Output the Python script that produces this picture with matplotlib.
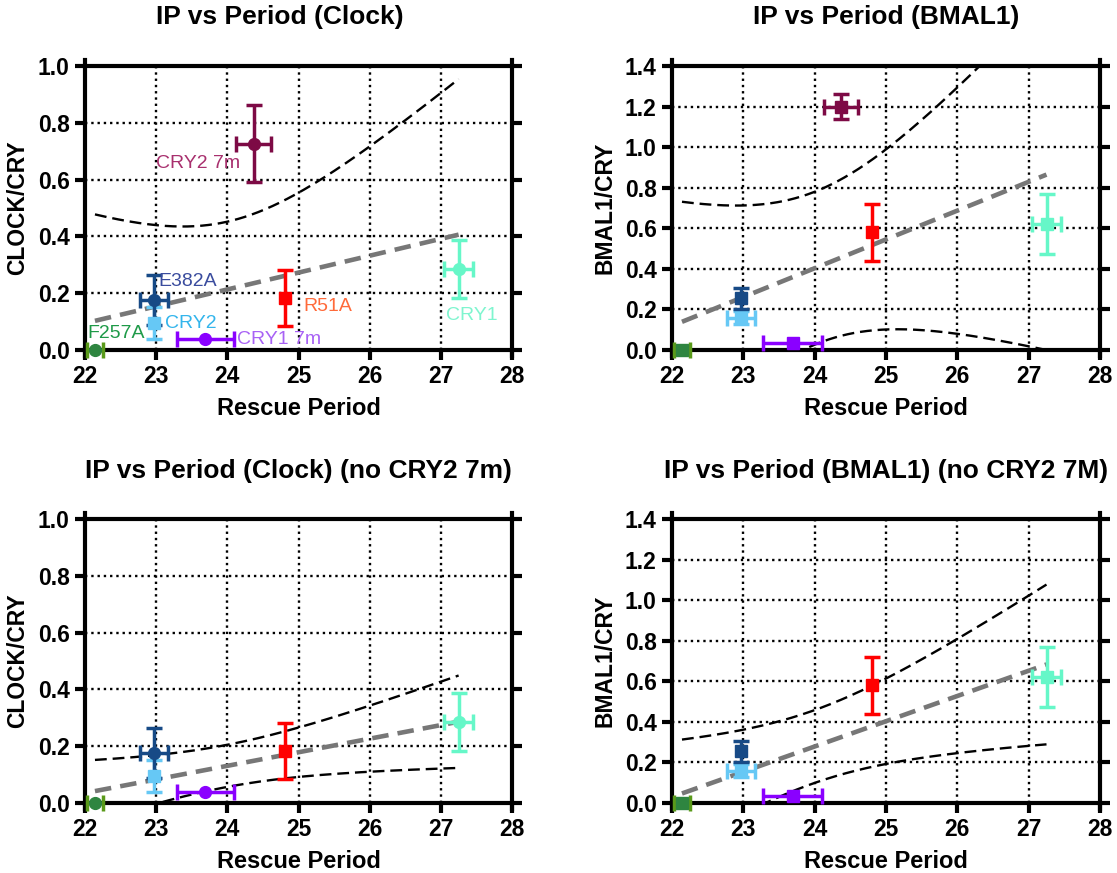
import numpy as np
import matplotlib
matplotlib.use("Agg")
import matplotlib.pyplot as plt

plt.rcParams['font.family'] = ['Liberation Sans', 'DejaVu Sans']

# ---------------- data ----------------
samples = ["F257A", "CRY2", "E382A", "CRY1 7m", "CRY2 7m", "R51A", "CRY1"]
period = [22.14, 22.97, 22.97, 23.69, 24.37, 24.81, 27.25]

clock_ratio = [0.0, 0.094, 0.176, 0.038, 0.727, 0.184, 0.285]
clock_ratio_err = [0.0, 0.057, 0.087, 0.0, 0.135, 0.098, 0.103]
clock_period_err = [0.11, 0.0, 0.20, 0.40, 0.25, 0.0, 0.205]

bmal_ratio = [0.0, 0.16, 0.254, 0.033, 1.20, 0.581, 0.622]
bmal_ratio_err = [0.0, 0.03, 0.05, 0.0, 0.06, 0.14, 0.149]
bmal_period_err = [0.11, 0.20, 0.0, 0.41, 0.24, 0.0, 0.20]

titles = ["IP vs Period (Clock)", "IP vs Period (BMAL1)",
          "IP vs Period (Clock) (no CRY2 7m)", "IP vs Period (BMAL1) (no CRY2 7M)"]
ylabels = ["CLOCK/CRY", "BMAL1/CRY", "CLOCK/CRY", "BMAL1/CRY"]
xlabel = "Rescue Period"
x_ticks = [22, 23, 24, 25, 26, 27, 28]
clock_yticks = [0.0, 0.2, 0.4, 0.6, 0.8, 1.0]
bmal_yticks = [0.0, 0.2, 0.4, 0.6, 0.8, 1.0, 1.2, 1.4]

# ---------------- styles ----------------
marker_colors = ["#2e8540", "#66c8f5", "#174a86", "#8a00ff", "#7d0a45", "#ff0000", "#66f7c8"]
err_colors = ["#5a9a1a", "#66c8f5", "#174a86", "#8a00ff", "#7d0a45", "#ff0000", "#66f7c8"]
label_colors = ["#1e9a48", "#33b5ec", "#3a4c9e", "#a862f5", "#a8306e", "#ff6a3a", "#7ff5cf"]
clock_markers = ["o", "s", "o", "o", "o", "s", "o"]
bmal_markers = ["s"] * 7
label_pos = [(22.04, 0.059), (23.12, 0.094), (23.03, 0.240), (24.14, 0.0375),
             (23.0, 0.656), (25.07, 0.152), (27.07, 0.123)]
T95 = {4: 2.776, 5: 2.571}


def fit_band(x, y):
    x = np.asarray(x, float)
    y = np.asarray(y, float)
    n = len(x)
    slope, icpt = np.polyfit(x, y, 1)
    xs = np.linspace(x.min(), x.max(), 300)
    yhat = icpt + slope * xs
    resid = y - (icpt + slope * x)
    s = np.sqrt(np.sum(resid ** 2) / (n - 2))
    sxx = np.sum((x - x.mean()) ** 2)
    se = s * np.sqrt(1.0 / n + (xs - x.mean()) ** 2 / sxx)
    t = T95[n - 2]
    return xs, yhat, yhat - t * se, yhat + t * se


fig = plt.figure(figsize=(11.17, 8.73), dpi=100)
W, H = 1117.0, 873.0
boxes = [(85, 66, 512, 350), (672, 66, 1100, 350), (85, 519, 512, 803), (672, 519, 1100, 803)]
title_pos = [(280, 17), (886, 17), (298, 471), (886, 471)]

for i in range(4):
    l, t_, r, b = boxes[i]
    ax = fig.add_axes([l / W, 1 - b / H, (r - l) / W, (b - t_) / H])
    is_clock = i in (0, 2)
    keep = list(range(7)) if i < 2 else [0, 1, 2, 3, 5, 6]
    yv = clock_ratio if is_clock else bmal_ratio
    ye = clock_ratio_err if is_clock else bmal_ratio_err
    xe = clock_period_err if is_clock else bmal_period_err
    mk = clock_markers if is_clock else bmal_markers
    ymax = 1.0 if is_clock else 1.4

    xs_fit = [period[k] for k in keep]
    ys_fit = [yv[k] for k in keep]
    xs, yhat, lo, hi = fit_band(xs_fit, ys_fit)
    ax.plot(xs, hi, color="black", lw=1.7, ls=(0, (5, 2.5)), zorder=3)
    ax.plot(xs, lo, color="black", lw=1.7, ls=(0, (5, 2.5)), zorder=3)
    ax.plot(xs, yhat, color="#777777", lw=3.3, ls=(0, (3.6, 2.0)), zorder=3)

    for k in keep:
        ax.errorbar(period[k], yv[k],
                    yerr=ye[k] if ye[k] > 0 else None,
                    xerr=xe[k] if xe[k] > 0 else None,
                    fmt=mk[k], color=err_colors[k], mfc=marker_colors[k], mec=marker_colors[k],
                    ms=8.5, elinewidth=2.5, capsize=5.5, capthick=2.5,
                    clip_on=False, zorder=5)
        if i == 0:
            ax.text(label_pos[k][0], label_pos[k][1], samples[k], color=label_colors[k],
                    fontsize=14, ha="left", va="center", zorder=6)

    ax.set_xlim(22, 28)
    ax.set_ylim(0, ymax)
    ax.set_xticks(x_ticks)
    ax.set_yticks(clock_yticks if is_clock else bmal_yticks)
    ax.set_xticklabels([str(v) for v in x_ticks])
    ax.set_yticklabels(["%.1f" % v for v in (clock_yticks if is_clock else bmal_yticks)])
    ax.grid(True, color="black", linestyle=":", linewidth=1.7, zorder=1)
    ax.set_axisbelow(True)
    for sp in ax.spines.values():
        sp.set_linewidth(3.0)
        sp.set_color("black")
    ax.spines["left"].set_bounds(0 - ymax * 0.02, ymax * 1.02)
    ax.spines["right"].set_bounds(0 - ymax * 0.02, ymax * 1.02)
    ax.tick_params(axis="both", direction="out", length=7, width=3.0,
                   labelsize=16.5, pad=4, right=True, labelright=False)
    for lab in ax.get_xticklabels() + ax.get_yticklabels():
        lab.set_fontweight("bold")
    ax.set_xlabel(xlabel, fontsize=17, fontweight="bold")
    ax.set_ylabel(ylabels[i], fontsize=16.5, fontweight="bold")
    ax.xaxis.set_label_coords(0.5, -0.165)
    ax.yaxis.set_label_coords(-0.13, 0.5)

    fig.text(title_pos[i][0] / W, 1 - title_pos[i][1] / H, titles[i],
             fontsize=19, fontweight="bold", ha="center", va="center")

fig.savefig("out.png", dpi=100)
